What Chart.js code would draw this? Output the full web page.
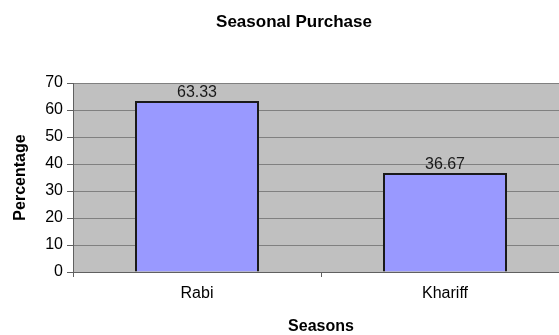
<!DOCTYPE html>
<html>
<head>
<meta charset="utf-8">
<script src="https://cdn.jsdelivr.net/npm/chart.js@4.4.1/dist/chart.umd.min.js"></script>
<style>
  html, body { margin: 0; padding: 0; background: #ffffff; }
  #wrap { width: 559px; height: 335px; overflow: hidden; position: relative; }
  canvas { display: block; }
</style>
</head>
<body>
<div id="wrap"><canvas id="c" width="588" height="335"></canvas></div>
<script>
const chartTitle = "Seasonal Purchase";
const xAxisTitle = "Seasons";
const yAxisTitle = "Percentage";
const categories = ["Rabi", "Khariff"];
const percentages = [63.33, 36.67];
const yMin = 0, yMax = 70, yStep = 10;

const FONT = "'Liberation Sans', Arial, Helvetica, sans-serif";

const plotBg = {
  id: 'plotBg',
  beforeDraw(chart) {
    const {ctx, chartArea: a} = chart;
    ctx.save();
    ctx.fillStyle = '#c0c0c0';
    ctx.fillRect(a.left, a.top, a.right - a.left, a.bottom - a.top);
    ctx.restore();
  }
};

const valueLabels = {
  id: 'valueLabels',
  afterDatasetsDraw(chart) {
    const {ctx} = chart;
    const meta = chart.getDatasetMeta(0);
    const ds = chart.data.datasets[0];
    ctx.save();
    ctx.font = "16px " + FONT;
    ctx.fillStyle = '#1a1a1a';
    ctx.textAlign = 'center';
    ctx.textBaseline = 'alphabetic';
    meta.data.forEach((bar, i) => {
      ctx.fillText(ds.data[i].toFixed(2), bar.x, bar.y - 4);
    });
    ctx.restore();
  }
};

new Chart(document.getElementById('c'), {
  type: 'bar',
  data: {
    labels: categories,
    datasets: [{
      data: percentages,
      backgroundColor: '#9999ff',
      borderColor: '#1a1a1a',
      borderWidth: 2,
      barPercentage: 0.5,
      categoryPercentage: 1.0
    }]
  },
  options: {
    responsive: false,
    animation: false,
    devicePixelRatio: 1,
    layout: { padding: { left: 0, right: 0, top: 0, bottom: 0 } },
    plugins: {
      legend: { display: false },
      tooltip: { enabled: false },
      title: {
        display: true,
        text: chartTitle,
        color: '#000000',
        font: { family: FONT, size: 17, weight: 'bold' },
        padding: { top: 12, bottom: 50.6 }
      }
    },
    scales: {
      x: {
        offset: true,
        grid: {
          offset: true,
          drawOnChartArea: false,
          drawTicks: true,
          tickLength: 5,
          color: '#606060'
        },
        border: { display: true, color: '#606060', width: 1 },
        ticks: {
          color: '#000000',
          font: { family: FONT, size: 16 },
          padding: 7,
          maxRotation: 0
        },
        title: {
          display: true,
          text: xAxisTitle,
          color: '#000000',
          font: { family: FONT, size: 16, weight: 'bold', lineHeight: 1 },
          padding: { top: 0, bottom: 0 }
        },
        afterFit(scale) { scale.height = 63; }
      },
      y: {
        min: yMin,
        max: yMax,
        grid: {
          color: '#808080',
          lineWidth: 1,
          drawTicks: true,
          tickLength: 6,
          tickColor: '#606060'
        },
        border: { display: true, color: '#606060', width: 1 },
        ticks: {
          stepSize: yStep,
          color: '#000000',
          font: { family: FONT, size: 16 },
          padding: 4
        },
        title: {
          display: true,
          text: yAxisTitle,
          color: '#000000',
          font: { family: FONT, size: 16, weight: 'bold' },
          padding: { top: 11, bottom: 0 }
        },
        afterFit(scale) { scale.width = 73; }
      },
      spacer: {
        type: 'linear',
        position: 'right',
        display: true,
        grid: { drawOnChartArea: false, drawTicks: false },
        border: { display: false },
        ticks: { display: false },
        afterFit(scale) { scale.width = 19; }
      }
    }
  },
  plugins: [plotBg, valueLabels]
});
</script>
</body>
</html>
